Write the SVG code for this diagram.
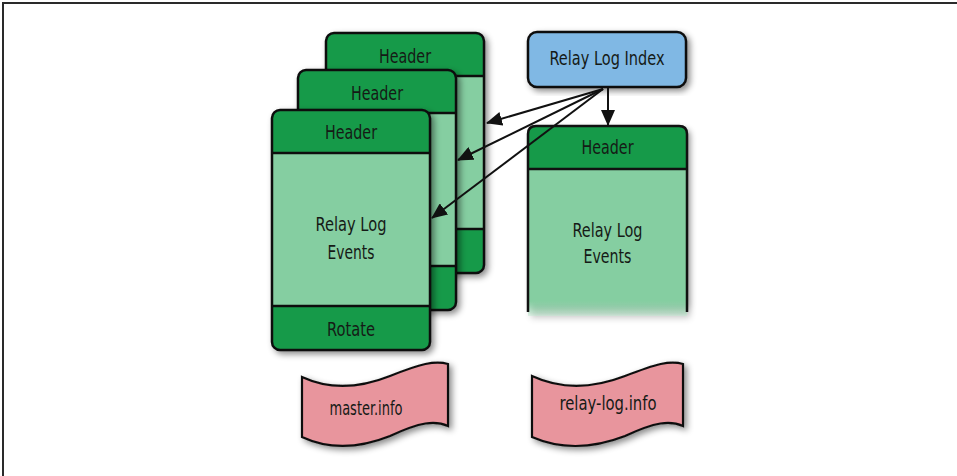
<svg xmlns="http://www.w3.org/2000/svg" xmlns:xlink="http://www.w3.org/1999/xlink" width="957" height="476" viewBox="0 0 957 476">
<style>
.lbl{font-family:"DejaVu Sans Condensed","DejaVu Sans","Liberation Sans",sans-serif;font-stretch:condensed;font-size:19.5px;fill:#151a16;text-anchor:middle}
.dark{fill:#139a49}
.light{fill:#85cea1}
.edge{fill:none;stroke:#111;stroke-width:2.5}
.conn{fill:none;stroke:#111;stroke-width:2}
.flag{fill:#e8959d;stroke:#111;stroke-width:2.2}
</style>
<defs>
<filter id="sh" x="-10%" y="-10%" width="125%" height="125%">
<feDropShadow dx="3" dy="3" stdDeviation="3" flood-color="#000" flood-opacity="0.45"/>
</filter>
<linearGradient id="fade" x1="0" y1="0" x2="0" y2="1">
<stop offset="0.9" stop-color="#85cea1"/>
<stop offset="1" stop-color="#85cea1" stop-opacity="0.2"/>
</linearGradient>
<marker id="ah" markerUnits="userSpaceOnUse" markerWidth="16" markerHeight="14" viewBox="0 0 16 14" refX="15" refY="7" orient="auto">
<path d="M0,0 L16,7 L0,14 Z" fill="#111"/>
</marker>
<g id="card">
<path class="dark" d="M0,43 V8 Q0,0 8,0 H150 Q158,0 158,8 V43 Z"/>
<rect class="light" x="0" y="43" width="158" height="153"/>
<path class="dark" d="M0,196 H158 V232 Q158,240 150,240 H8 Q0,240 0,232 Z"/>
<rect class="edge" x="0" y="0" width="158" height="240" rx="8"/>
<path class="edge" d="M0,43 H158 M0,196 H158"/>
</g>
</defs>
<rect width="957" height="476" fill="#fff"/>
<path d="M3,476 V3 H957" fill="none" stroke="#2a2a2a" stroke-width="2"/>

<g id="log3" transform="translate(326,33)">
<use xlink:href="#card" filter="url(#sh)"/>
<text class="lbl" x="79" y="30" textLength="52" lengthAdjust="spacingAndGlyphs">Header</text>
</g>
<g id="log2" transform="translate(298,70)">
<use xlink:href="#card" filter="url(#sh)"/>
<text class="lbl" x="79" y="30" textLength="52" lengthAdjust="spacingAndGlyphs">Header</text>
</g>
<g id="log1" transform="translate(272,110)">
<use xlink:href="#card" filter="url(#sh)"/>
<text class="lbl" x="79" y="29" textLength="52" lengthAdjust="spacingAndGlyphs">Header</text>
<text class="lbl" x="79" y="121" textLength="71" lengthAdjust="spacingAndGlyphs">Relay Log</text>
<text class="lbl" x="79" y="149" textLength="47" lengthAdjust="spacingAndGlyphs">Events</text>
<text class="lbl" x="79" y="226" textLength="48" lengthAdjust="spacingAndGlyphs">Rotate</text>
</g>

<g id="index">
<rect x="528" y="32" width="158" height="55" rx="9" fill="#80b8e4" stroke="#111" stroke-width="2.5" filter="url(#sh)"/>
<text class="lbl" x="607" y="65" textLength="115" lengthAdjust="spacingAndGlyphs">Relay Log Index</text>
</g>

<g id="current" transform="translate(528,126)">
<g filter="url(#sh)">
<rect x="0" y="43" width="159" height="147" fill="url(#fade)"/>
<path class="dark" d="M0,43 V8 Q0,0 8,0 H151 Q159,0 159,8 V43 Z"/>
</g>
<path class="edge" d="M0,186 V8 Q0,0 8,0 H151 Q159,0 159,8 V186 M0,43 H159"/>
<text class="lbl" x="79.5" y="28" textLength="52" lengthAdjust="spacingAndGlyphs">Header</text>
<text class="lbl" x="79.5" y="111" textLength="70" lengthAdjust="spacingAndGlyphs">Relay Log</text>
<text class="lbl" x="79.5" y="137" textLength="48" lengthAdjust="spacingAndGlyphs">Events</text>
</g>

<g id="masterinfo">
<path class="flag" filter="url(#sh)" d="M302,377 C330,390 360,388 390,376 S435,360 448,364 L448,426 C435,420 420,422 390,436 C360,448 330,450 302,437 Z"/>
<text class="lbl" x="366" y="415" textLength="73" lengthAdjust="spacingAndGlyphs">master.info</text>
</g>
<g id="relayloginfo">
<path class="flag" filter="url(#sh)" d="M532,376 C562,390 594,388 625,376 S670,360 683,364 L683,426 C670,420 655,422 625,436 C594,448 562,450 532,437 Z"/>
<text class="lbl" x="608" y="410" textLength="97" lengthAdjust="spacingAndGlyphs">relay-log.info</text>
</g>

<g id="connectors">
<path class="conn" marker-end="url(#ah)" d="M603,89 L487,123"/>
<path class="conn" marker-end="url(#ah)" d="M603,89 L458,160"/>
<path class="conn" marker-end="url(#ah)" d="M603,89 L432,218"/>
<path class="conn" marker-end="url(#ah)" d="M608,88 L608,125"/>
</g>
</svg>
